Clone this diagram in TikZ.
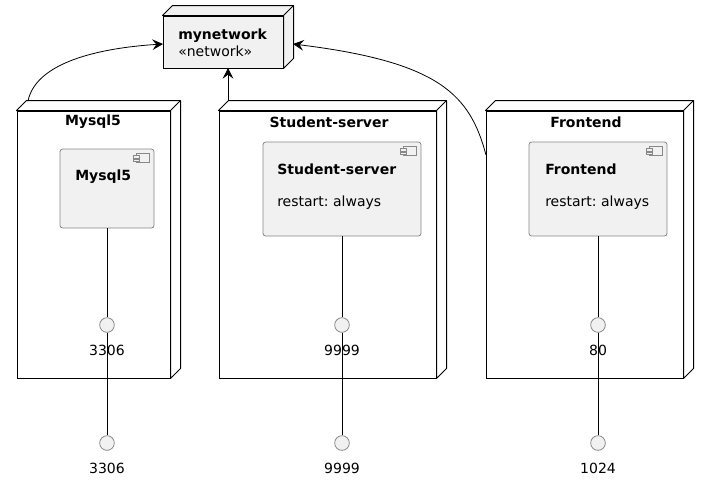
\documentclass[tikz,border=0pt]{standalone}
\usepackage{fontspec}
\setmainfont{DejaVu Sans}
\frenchspacing
\usetikzlibrary{arrows.meta,calc,fit}
\definecolor{compfill}{HTML}{F1F1F1}
\definecolor{compline}{HTML}{888888}
\tikzset{
  every node/.style={font=\fontsize{10.5}{12.6}\selectfont},
  dnode/.style={draw=black, line width=0.75pt, fill=white, rectangle, inner sep=0pt},
  netnode/.style={draw=black, line width=0.75pt, fill=compfill, rectangle, inner sep=0pt},
  compbox/.style={draw=compline, line width=0.6pt, fill=compfill, rectangle, rounded corners=2pt, inner sep=0pt},
  iface/.style={circle, draw=compline, line width=0.6pt, fill=compfill, minimum size=11pt, inner sep=0pt},
  lbl/.style={inner sep=0pt},
  ttl/.style={inner sep=0pt, font=\fontsize{10.5}{12.6}\selectfont\bfseries},
  conn/.style={draw=black, line width=0.6pt},
  arr/.style={draw=black, line width=0.6pt, -{Stealth[length=8pt,width=8pt,inset=3pt]}},
}
\newcommand{\depthfaces}[2]{%
  \draw[line width=0.75pt, fill=#2, line join=round] (#1.north west) -- ++(10,-10) -- ($(#1.north east)+(10,-10)$) -- ($(#1.south east)+(10,-10)$) -- (#1.south east) -- (#1.north east) -- cycle;
  \draw[line width=0.75pt] (#1.north east) -- ++(10,-10);}
\newcommand{\compicon}[1]{%
  \draw[compline, line width=0.5pt, fill=compfill] ($(#1.north east)+(-18,5)$) rectangle ($(#1.north east)+(-5,14)$);
  \draw[compline, line width=0.5pt, fill=compfill] ($(#1.north east)+(-21,7)$) rectangle ++(6,2.5);
  \draw[compline, line width=0.5pt, fill=compfill] ($(#1.north east)+(-21,10.5)$) rectangle ++(6,2.5);}
\begin{document}
\begin{tikzpicture}[x=0.75pt,y=-0.75pt]
\useasboundingbox (0,0) rectangle (709,480);
% corner coordinates
\coordinate (na) at (163,16); \coordinate (nb) at (283,68);
\coordinate (ma) at (17,111); \coordinate (mb) at (170,378);
\coordinate (sa) at (219,111); \coordinate (sb) at (436,378);
\coordinate (fa) at (486,111); \coordinate (fb) at (683,378);
\coordinate (mca) at (60,149); \coordinate (mcb) at (154,228);
\coordinate (sca) at (263,142); \coordinate (scb) at (421,236);
\coordinate (fca) at (529,142); \coordinate (fcb) at (667,236);

% mynetwork
\node[netnode, fit=(na)(nb)] (net) {};
\depthfaces{net}{compfill}
\node[lbl, anchor=west, align=left] (netlbl) at (178,43) {\textbf{mynetwork}\\«network»};

% deployment nodes
\node[dnode, fit=(ma)(mb)] (mysqlnode) {};
\depthfaces{mysqlnode}{white}
\node[ttl] (mysqlttl) at (93,122) {Mysql5};

\node[dnode, fit=(sa)(sb)] (studnode) {};
\depthfaces{studnode}{white}
\node[ttl] (studttl) at (329,122) {Student-server};

\node[dnode, fit=(fa)(fb)] (frontnode) {};
\depthfaces{frontnode}{white}
\node[ttl] (frontttl) at (586,122) {Frontend};

% components
\node[compbox, fit=(mca)(mcb)] (mysqlcomp) {};
\compicon{mysqlcomp}
\node[ttl, anchor=west] (mysqlct) at (75,177) {Mysql5};

\node[compbox, fit=(sca)(scb)] (studcomp) {};
\compicon{studcomp}
\node[ttl, anchor=west] (studct) at (277,169) {Student-server};
\node[lbl, anchor=west] (studrs) at (277,203) {restart: always};

\node[compbox, fit=(fca)(fcb)] (frontcomp) {};
\compicon{frontcomp}
\node[ttl, anchor=west] (frontct) at (545,169) {Frontend};
\node[lbl, anchor=west] (frontrs) at (545,203) {restart: always};

% interfaces
\node[iface] (m1) at (107,325) {};
\node[iface] (m2) at (107,443) {};
\node[iface] (s1) at (342,325) {};
\node[iface] (s2) at (342,443) {};
\node[iface] (f1) at (598,325) {};
\node[iface] (f2) at (598,443) {};
\node[lbl] (m1l) at (107,350) {3306};
\node[lbl] (m2l) at (107,468) {3306};
\node[lbl] (s1l) at (342,350) {9999};
\node[lbl] (s2l) at (342,468) {9999};
\node[lbl] (f1l) at (598,350) {80};
\node[lbl] (f2l) at (598,468) {1024};

\draw[conn] (mysqlcomp.south) -- (m1);
\draw[conn] (m1) -- (m2);
\draw[conn] (studcomp.south) -- (s1);
\draw[conn] (s1) -- (s2);
\draw[conn] (frontcomp.south) -- (f1);
\draw[conn] (f1) -- (f2);

% connectors to mynetwork
\coordinate (mstart) at (28,101);
\coordinate (netL) at (163,44);
\coordinate (sstart) at (228,101);
\coordinate (netB) at (228,68);
\coordinate (fstart) at (486,155);
\coordinate (netR) at (293,44);
\draw[arr] (mstart) .. controls (36,62) and (100,48) .. (netL);
\draw[arr] (sstart) -- (netB);
\draw[arr] (fstart) .. controls (470,95) and (440,62) .. (netR);
\end{tikzpicture}
\end{document}
